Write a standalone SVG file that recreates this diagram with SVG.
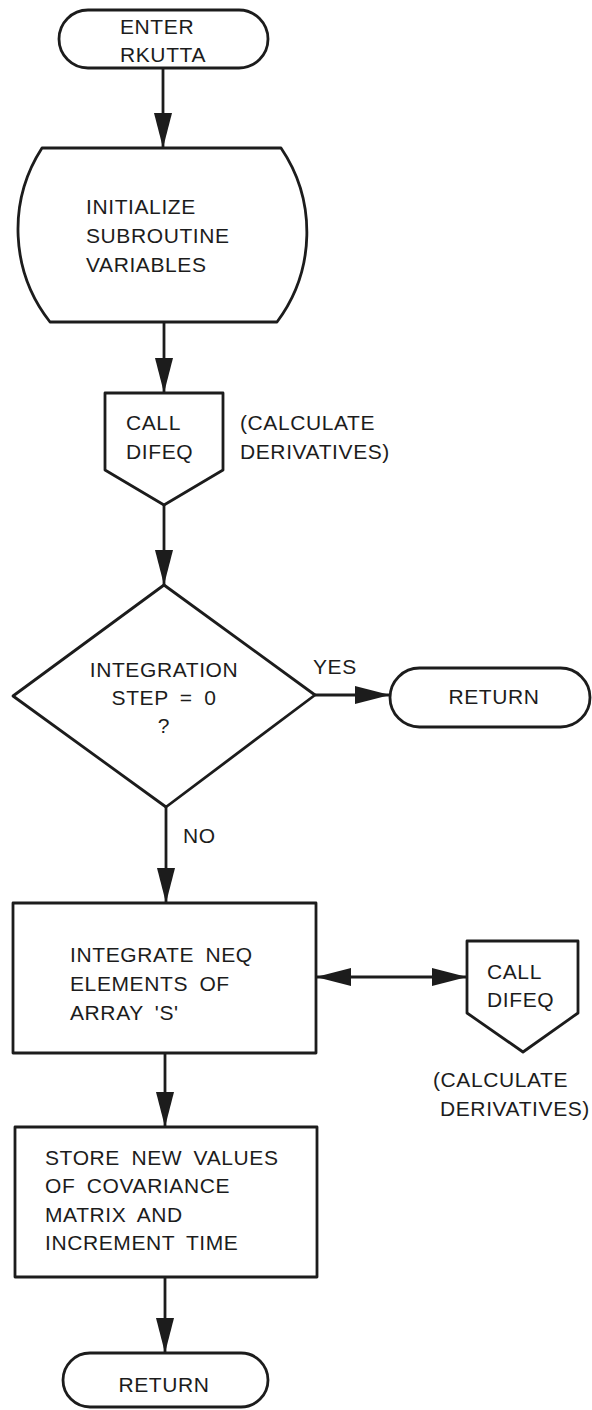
<svg xmlns="http://www.w3.org/2000/svg" width="592" height="1410" viewBox="0 0 592 1410">
  <style>
    .shape { fill: #ffffff; stroke: #1c1c1c; stroke-width: 2.8; stroke-linejoin: round; }
    .line { fill: none; stroke: #1c1c1c; stroke-width: 2.8; }
    .lbl { font-family: "Liberation Sans", "DejaVu Sans", sans-serif; font-size: 21px; fill: #1c1c1c; letter-spacing: 0.6px; word-spacing: 5px; }
    .mid { text-anchor: middle; }
  </style>
  <defs>
    <marker id="head" markerUnits="userSpaceOnUse" markerWidth="36" markerHeight="20" viewBox="0 0 36 20" refX="35" refY="10" orient="auto-start-reverse">
      <path d="M0,1 L35,10 L0,19 Z" fill="#1c1c1c"/>
    </marker>
  </defs>

  <rect width="592" height="1410" fill="#ffffff"/>

  <!-- flow lines -->
  <g id="connectors">
    <line class="line" x1="163" y1="68" x2="163" y2="148" marker-end="url(#head)"/>
    <line class="line" x1="164" y1="322" x2="164" y2="393" marker-end="url(#head)"/>
    <line class="line" x1="164" y1="505" x2="164" y2="585" marker-end="url(#head)"/>
    <line class="line" x1="315" y1="695" x2="390" y2="695" marker-end="url(#head)"/>
    <line class="line" x1="166" y1="807" x2="166" y2="903" marker-end="url(#head)"/>
    <line class="line" x1="316" y1="977" x2="467" y2="977" marker-start="url(#head)" marker-end="url(#head)"/>
    <line class="line" x1="165" y1="1053" x2="165" y2="1127" marker-end="url(#head)"/>
    <line class="line" x1="165" y1="1277" x2="165" y2="1353" marker-end="url(#head)"/>
    <text class="lbl" x="313" y="674">YES</text>
    <text class="lbl" x="183" y="843">NO</text>
  </g>

  <g id="enter">
    <rect class="shape" x="59" y="10" width="209" height="58" rx="29" ry="29"/>
    <text class="lbl" x="120" y="34">ENTER</text>
    <text class="lbl" x="120" y="62">RKUTTA</text>
  </g>

  <g id="initialize">
    <path class="shape" d="M42,148 L281,148 A150,150 0 0 1 277,322 L50,322 A150,150 0 0 1 42,148 Z"/>
    <text class="lbl" x="86" y="214" letter-spacing="1.8">INITIALIZE</text>
    <text class="lbl" x="86" y="243">SUBROUTINE</text>
    <text class="lbl" x="86" y="272">VARIABLES</text>
  </g>

  <g id="call-difeq-1">
    <path class="shape" d="M105,393 L223,393 L223,470 L164,505 L105,470 Z"/>
    <text class="lbl" x="126" y="430">CALL</text>
    <text class="lbl" x="126" y="459">DIFEQ</text>
    <text class="lbl" x="240" y="430">(CALCULATE</text>
    <text class="lbl" x="240" y="459">DERIVATIVES)</text>
  </g>

  <g id="decision">
    <path class="shape" d="M164,585 L315,695 L166,807 L13,696 Z"/>
    <text class="lbl mid" x="164" y="677" letter-spacing="1.4">INTEGRATION</text>
    <text class="lbl mid" x="164" y="705">STEP = 0</text>
    <text class="lbl mid" x="164" y="733">?</text>
  </g>

  <g id="return-1">
    <rect class="shape" x="390" y="668" width="200" height="59" rx="29.5" ry="29.5"/>
    <text class="lbl mid" x="494" y="704">RETURN</text>
  </g>

  <g id="integrate">
    <rect class="shape" x="13" y="903" width="303" height="150"/>
    <text class="lbl" x="70" y="962">INTEGRATE NEQ</text>
    <text class="lbl" x="70" y="991">ELEMENTS OF</text>
    <text class="lbl" x="70" y="1020">ARRAY 'S'</text>
  </g>

  <g id="call-difeq-2">
    <path class="shape" d="M467,941 L578,941 L578,1013 L523,1052 L467,1013 Z"/>
    <text class="lbl" x="487" y="979">CALL</text>
    <text class="lbl" x="487" y="1007">DIFEQ</text>
    <text class="lbl" x="433" y="1087">(CALCULATE</text>
    <text class="lbl" x="440" y="1116">DERIVATIVES)</text>
  </g>

  <g id="store">
    <rect class="shape" x="15" y="1127" width="302" height="150"/>
    <text class="lbl" x="45" y="1165">STORE NEW VALUES</text>
    <text class="lbl" x="45" y="1193">OF COVARIANCE</text>
    <text class="lbl" x="45" y="1222">MATRIX AND</text>
    <text class="lbl" x="45" y="1250">INCREMENT TIME</text>
  </g>

  <g id="return-2">
    <rect class="shape" x="63" y="1353" width="205" height="54" rx="27" ry="27"/>
    <text class="lbl mid" x="164" y="1392">RETURN</text>
  </g>
</svg>
